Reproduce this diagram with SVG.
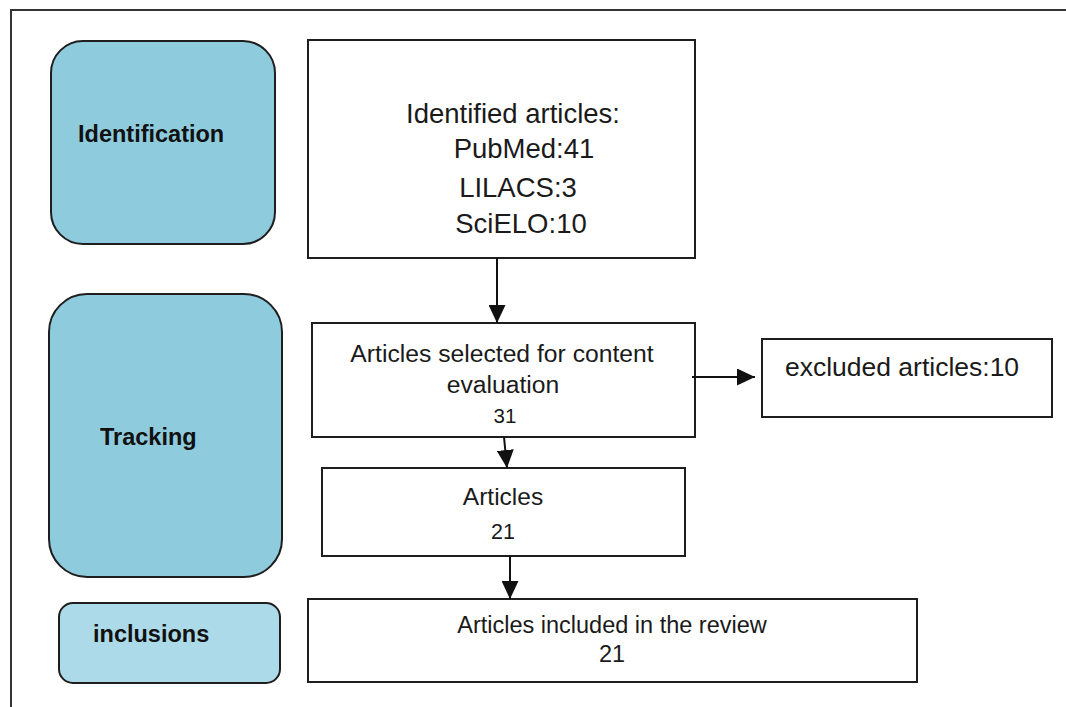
<svg xmlns="http://www.w3.org/2000/svg" width="1066" height="707" viewBox="0 0 1066 707">
<style>
.stage{fill:#8ECBDC;stroke:#1e1e1e;stroke-width:2}
.stage2{fill:#ADDAE8;stroke:#1e1e1e;stroke-width:2}
.box{fill:#fff;stroke:#1e1e1e;stroke-width:2}
.lbl{font-family:"Liberation Sans",Arial,sans-serif;font-weight:bold;font-size:23.5px;fill:#111}
.cal{font-family:"Liberation Sans",Arial,sans-serif;fill:#1a1a1a;text-anchor:middle}
.hel{font-family:"Liberation Sans",Arial,sans-serif;fill:#1a1a1a;text-anchor:middle}
.conn{stroke:#111;stroke-width:2;fill:none;marker-end:url(#ah)}
</style>
<defs>
<marker id="ah" markerWidth="18" markerHeight="17" refX="18" refY="8.5" orient="auto" markerUnits="userSpaceOnUse">
<path d="M0,0 L18,8.5 L0,17 Z" fill="#111"/>
</marker>
</defs>
<rect x="0" y="0" width="1066" height="707" fill="#fff"/>
<g id="frame">
<path d="M11,707 L11,10 L1066,10" fill="none" stroke="#333" stroke-width="2"/>
</g>
<g id="stage-identification">
<rect class="stage" x="51" y="41" width="224" height="203" rx="32" ry="32"/>
<text class="lbl" x="78" y="142">Identification</text>
</g>
<g id="stage-tracking">
<rect class="stage" x="49" y="294" width="233" height="283" rx="38" ry="38"/>
<text class="lbl" x="100" y="445">Tracking</text>
</g>
<g id="stage-inclusions">
<rect class="stage2" x="59" y="603" width="221" height="80" rx="14" ry="14"/>
<text class="lbl" x="93" y="642">inclusions</text>
</g>
<g id="node-identified">
<rect class="box" x="308" y="40" width="387" height="218"/>
<text class="cal" font-size="27.5" x="513" y="123">Identified articles:</text>
<text class="cal" font-size="27.5" x="524" y="158">PubMed:41</text>
<text class="cal" font-size="27.5" x="518" y="197">LILACS:3</text>
<text class="cal" font-size="27.5" x="521" y="233">SciELO:10</text>
</g>
<g id="node-selected">
<rect class="box" x="312" y="323" width="383" height="114"/>
<text class="cal" font-size="24.7" x="502" y="362">Articles selected for content</text>
<text class="cal" font-size="24.7" x="503" y="393">evaluation</text>
<text class="cal" font-size="20.5" x="505" y="423">31</text>
</g>
<g id="node-excluded">
<rect class="box" x="762" y="339" width="290" height="78"/>
<text class="hel" font-size="26.5" x="902" y="376">excluded articles:10</text>
</g>
<g id="node-articles">
<rect class="box" x="322" y="468" width="363" height="88"/>
<text class="cal" font-size="24.5" x="503" y="505">Articles</text>
<text class="cal" font-size="21.5" x="503" y="539">21</text>
</g>
<g id="node-included">
<rect class="box" x="308" y="599" width="609" height="83"/>
<text class="hel" font-size="23.5" x="612" y="633">Articles included in the review</text>
<text class="hel" font-size="23.5" x="612" y="662">21</text>
</g>
<g id="connectors">
<line class="conn" x1="497" y1="258" x2="497" y2="323"/>
<line class="conn" x1="504" y1="437" x2="507" y2="468"/>
<line class="conn" x1="692" y1="377" x2="755" y2="377"/>
<line class="conn" x1="510" y1="556" x2="510" y2="599"/>
</g>
</svg>
